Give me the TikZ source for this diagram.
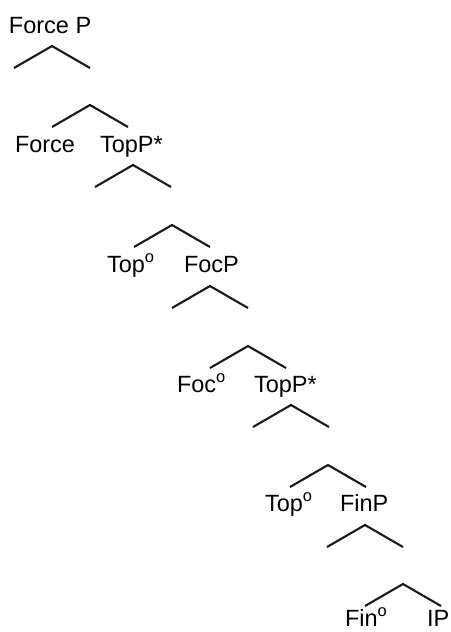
\documentclass[tikz,border=0pt]{standalone}
\usepackage{fontspec}
\setmainfont{Liberation Sans}
\begin{document}
\begin{tikzpicture}[x=1pt,y=-1pt,
  lbl/.style={anchor=base west,inner sep=0pt,outer sep=0pt,
              font=\fontsize{23.5}{28}\selectfont},
  branch/.style={line width=2.1pt,line join=miter,line cap=butt,
                 black!90},
  caret/.pic={\draw[branch] (-38,22) -- (0,0) -- (38,22);}]
\useasboundingbox (0,0) rectangle (450,632);
% phrase and head labels
\node[lbl] (forcep) at (9,33)   {Force P};
\node[lbl] (force)  at (15,152) {Force};
\node[lbl] (topa)   at (100,152) {TopP*};
\node[lbl] (topha)  at (107,272) {Top\textsuperscript{o}};
\node[lbl] (focp)   at (184,272) {FocP};
\node[lbl] (foch)   at (177,392) {Foc\textsuperscript{o}};
\node[lbl] (topb)   at (254,392) {TopP*};
\node[lbl] (tophb)  at (265,511) {Top\textsuperscript{o}};
\node[lbl] (finp)   at (340,511) {FinP};
\node[lbl] (finh)   at (345,626) {Fin\textsuperscript{o}};
\node[lbl] (ip)     at (427,626) {IP};
% branching carets (apex positions)
\coordinate (a1) at (52,46);
\coordinate (b1) at (90,105);
\coordinate (a2) at (133,165);
\coordinate (b2) at (172,225);
\coordinate (a3) at (210,286);
\coordinate (b3) at (248,346);
\coordinate (a4) at (291,405);
\coordinate (b4) at (328,465);
\coordinate (a5) at (365,525);
\coordinate (b5) at (403,584);
\foreach \c in {a1,b1,a2,b2,a3,b3,a4,b4,a5,b5}
  \pic at (\c) {caret};
\end{tikzpicture}
\end{document}
